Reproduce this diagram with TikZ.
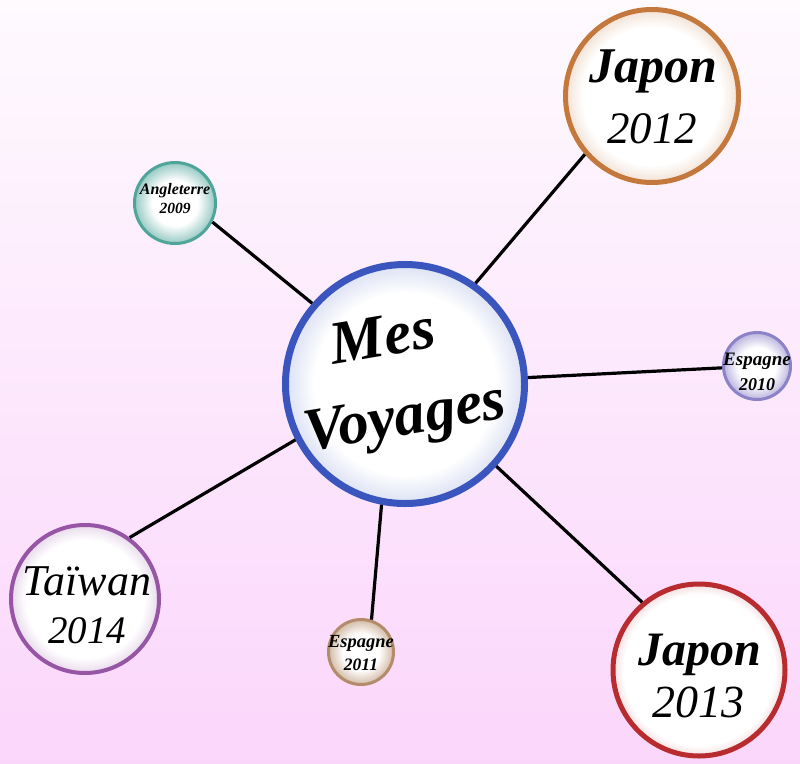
\documentclass[tikz,border=0pt]{standalone}
\usepackage{fontspec}
\setmainfont{Liberation Serif}
\definecolor{bgtop}{RGB}{254,250,254}
\definecolor{bgbot}{RGB}{251,214,251}
\definecolor{cblue}{RGB}{58,86,190}
\definecolor{corange}{RGB}{196,120,60}
\definecolor{cred}{RGB}{184,44,48}
\definecolor{cpurple}{RGB}{150,86,165}
\definecolor{cteal}{RGB}{80,165,155}
\definecolor{clav}{RGB}{140,130,200}
\definecolor{ctan}{RGB}{180,140,105}
\pgfdeclareradialshading{shblue}{\pgfpoint{0bp}{0bp}}{color(0bp)=(white); color(19bp)=(white); color(25bp)=(cblue!18); color(50bp)=(cblue!18)}
\pgfdeclareradialshading{shorange}{\pgfpoint{0bp}{0bp}}{color(0bp)=(white); color(20bp)=(white); color(25bp)=(corange!22); color(50bp)=(corange!22)}
\pgfdeclareradialshading{shred}{\pgfpoint{0bp}{0bp}}{color(0bp)=(white); color(22bp)=(white); color(25bp)=(cred!16); color(50bp)=(cred!16)}
\pgfdeclareradialshading{shpurple}{\pgfpoint{0bp}{0bp}}{color(0bp)=(white); color(20bp)=(white); color(25bp)=(cpurple!22); color(50bp)=(cpurple!22)}
\pgfdeclareradialshading{shteal}{\pgfpoint{0bp}{0bp}}{color(0bp)=(white); color(14bp)=(white); color(25bp)=(cteal!60); color(50bp)=(cteal!60)}
\pgfdeclareradialshading{shlav}{\pgfpoint{0bp}{0bp}}{color(0bp)=(white); color(14bp)=(white); color(25bp)=(clav!60); color(50bp)=(clav!60)}
\pgfdeclareradialshading{shtan}{\pgfpoint{0bp}{0bp}}{color(0bp)=(white); color(14bp)=(white); color(25bp)=(ctan!60); color(50bp)=(ctan!60)}
\begin{document}
\begin{tikzpicture}[x=1pt,y=-1pt,
  bubble/.style={circle, inner sep=0pt, shade},
  link/.style={line width=3.2pt, black},
  lbl/.style={anchor=base, inner sep=0pt},
  fsize/.style={font=\itshape\fontsize{#1}{#1}\selectfont},
  fsizeb/.style={font=\bfseries\itshape\fontsize{#1}{#1}\selectfont}]
\useasboundingbox (0,0) rectangle (800,763);
\fill[top color=bgtop, bottom color=bgbot] (0,0) rectangle (800,763);
% nodes
\node[bubble, minimum size=239pt, line width=7pt, draw=cblue, shading=shblue] (c) at (405,384) {};
\node[bubble, minimum size=173pt, line width=5pt, draw=corange, shading=shorange] (j12) at (652,96) {};
\node[bubble, minimum size=81pt, line width=3pt, draw=cteal, shading=shteal] (a09) at (175,203) {};
\node[bubble, minimum size=67pt, line width=3pt, draw=clav, shading=shlav] (e10) at (757,366) {};
\node[bubble, minimum size=148pt, line width=4pt, draw=cpurple, shading=shpurple] (t14) at (85,599) {};
\node[bubble, minimum size=65pt, line width=3pt, draw=ctan, shading=shtan] (e11) at (361,652) {};
\node[bubble, minimum size=172pt, line width=5pt, draw=cred, shading=shred] (j13) at (699,670) {};
% connectors
\draw[link] (c.139.4) -- (a09.333);
\draw[link] (c.55) -- (j12.221.2);
\draw[link] (c.3.3) -- (e10.183);
\draw[link] (c.207.2) -- (t14.54.5);
\draw[link] (c.259.4) -- (e11.72.6);
\draw[link] (c.318) -- (j13.130.7);
% texts
\node[inner sep=0pt, rotate=9.5, align=center, font=\bfseries\itshape\fontsize{61}{81.5}\selectfont] (tmv) at (399,381) {Mes\hspace*{18pt}\\Voyages};
\node[lbl, fsizeb=50] (tj12a) at (653,82) {Japon};
\node[lbl, fsize=45] (tj12b) at (652,143) {2012};
\node[lbl, fsizeb=48] (tj13a) at (700,665) {Japon};
\node[lbl, fsize=46] (tj13b) at (698,717) {2013};
\node[lbl, fsize=44] (tt14a) at (87,595) {Taïwan};
\node[lbl, fsize=39] (tt14b) at (87,643) {2014};
\node[lbl, fsizeb=16] (ta09a) at (175,194) {Angleterre};
\node[lbl, fsizeb=15.5] (ta09b) at (175,213) {2009};
\node[lbl, fsizeb=19] (te10a) at (757,365) {Espagne};
\node[lbl, fsizeb=18] (te10b) at (757,390) {2010};
\node[lbl, fsizeb=18.5] (te11a) at (361,647) {Espagne};
\node[lbl, fsizeb=17.5] (te11b) at (361,670) {2011};
\end{tikzpicture}
\end{document}
